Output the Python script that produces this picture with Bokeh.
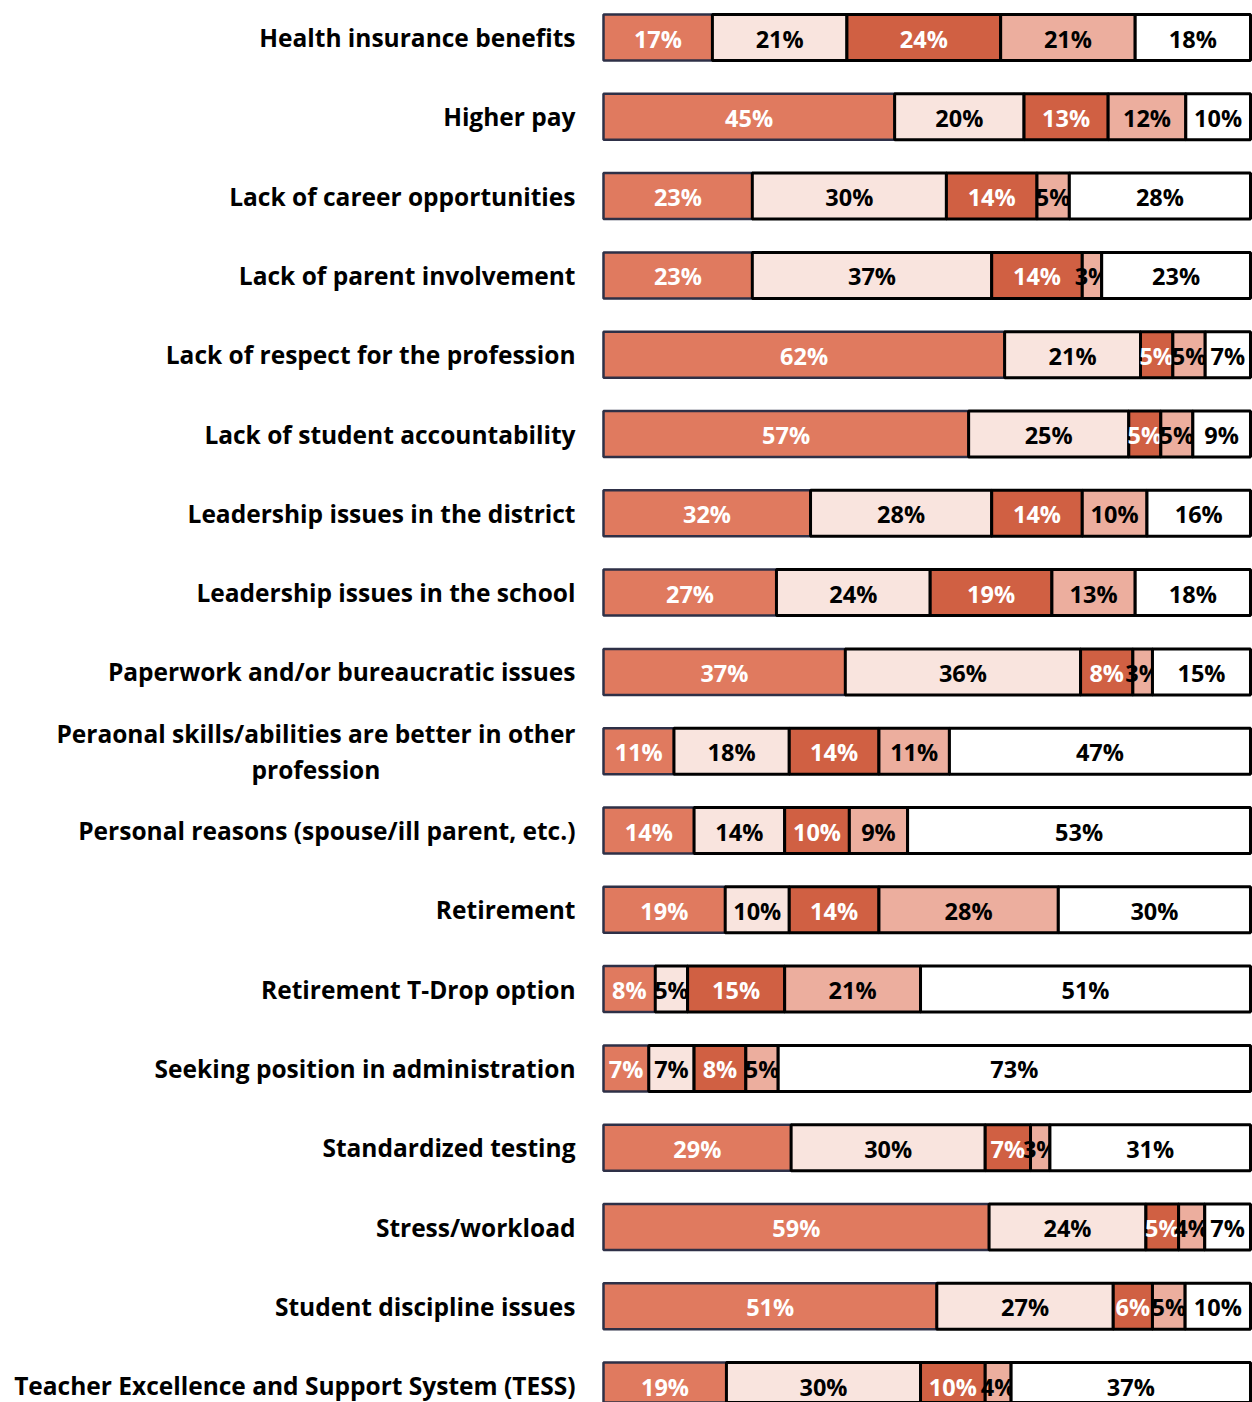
from bokeh.plotting import figure
from bokeh.models import ColumnDataSource, Range1d
from bokeh.core.properties import value
from bokeh.embed import file_html
from bokeh.resources import INLINE

categories = [
    "Health insurance benefits",
    "Higher pay",
    "Lack of career opportunities",
    "Lack of parent involvement",
    "Lack of respect for the profession",
    "Lack of student accountability",
    "Leadership issues in the district",
    "Leadership issues in the school",
    "Paperwork and/or bureaucratic issues",
    "Peraonal skills/abilities are better in other\nprofession",
    "Personal reasons (spouse/ill parent, etc.)",
    "Retirement",
    "Retirement T-Drop option",
    "Seeking position in administration",
    "Standardized testing",
    "Stress/workload",
    "Student discipline issues",
    "Teacher Excellence and Support System (TESS)",
]

seg1 = [17, 45, 23, 23, 62, 57, 32, 27, 37, 11, 14, 19, 8, 7, 29, 59, 51, 19]
seg2 = [21, 20, 30, 37, 21, 25, 28, 24, 36, 18, 14, 10, 5, 7, 30, 24, 27, 30]
seg3 = [24, 13, 14, 14, 5, 5, 14, 19, 8, 14, 10, 14, 15, 8, 7, 5, 6, 10]
seg4 = [21, 12, 5, 3, 5, 5, 10, 13, 3, 11, 9, 28, 21, 5, 3, 4, 5, 4]
seg5 = [18, 10, 28, 23, 7, 9, 16, 18, 15, 47, 53, 30, 51, 73, 31, 7, 10, 37]

series = [seg1, seg2, seg3, seg4, seg5]
fills = ["#E07A5F", "#F9E4DE", "#D06043", "#ECAE9E", "#FFFFFF"]
borders = ["#2E3047", "#000000", "#000000", "#000000", "#000000"]
border_w = [2.5, 3, 3, 3, 3]
label_colors = ["#FFFFFF", "#000000", "#FFFFFF", "#000000", "#000000"]

FONT = "Open Sans"

p = figure(width=1252, height=1402,
           x_range=Range1d(-93.2, 100.31), y_range=Range1d(17.213, -0.4666),
           output_backend="svg", toolbar_location=None, min_border=0,
           x_axis_type=None, y_axis_type=None)
p.grid.visible = False
p.outline_line_color = None
p.background_fill_color = "white"
p.border_fill_color = "white"

n = len(categories)
totals = [sum(s[i] for s in series) for i in range(n)]
lefts = [0.0] * n

for j, s in enumerate(series):
    left = []
    right = []
    for i in range(n):
        w = s[i] / totals[i] * 100.0
        left.append(lefts[i])
        right.append(lefts[i] + w)
    src = ColumnDataSource(dict(
        y=list(range(n)), left=left, right=right,
        mid=[(a + b) / 2 for a, b in zip(left, right)],
        lab=[f"{v}%" for v in s],
    ))
    p.hbar(y="y", left="left", right="right", height=0.58, source=src,
           fill_color=fills[j], line_color=borders[j], line_width=border_w[j])
    lefts = right
    p.text(x="mid", y="y", text="lab", source=src, text_align="center",
           text_baseline="middle", text_font=value(FONT), text_font_style="bold",
           text_font_size="23.5px", text_color=label_colors[j], y_offset=1)

single = [i for i, c in enumerate(categories) if "\n" not in c]
multi = [i for i, c in enumerate(categories) if "\n" in c]

csrc = ColumnDataSource(dict(x=[0] * len(single), y=single,
                             t=[categories[i] for i in single]))
p.text(x="x", y="y", text="t", source=csrc, text_align="right",
       text_baseline="middle", x_offset=-28, text_font=value(FONT),
       text_font_style="bold", text_font_size="24.5px", text_color="#000000")

msrc = ColumnDataSource(dict(x=[0] * len(multi), y=multi,
                             t=[categories[i] for i in multi]))
p.text(x="x", y="y", text="t", source=msrc, anchor="center_right",
       text_align="center", text_baseline="middle", x_offset=-28,
       text_line_height=1.08, text_font=value(FONT),
       text_font_style="bold", text_font_size="24.5px", text_color="#000000")

open("out.html", "w").write(file_html(p, INLINE))
